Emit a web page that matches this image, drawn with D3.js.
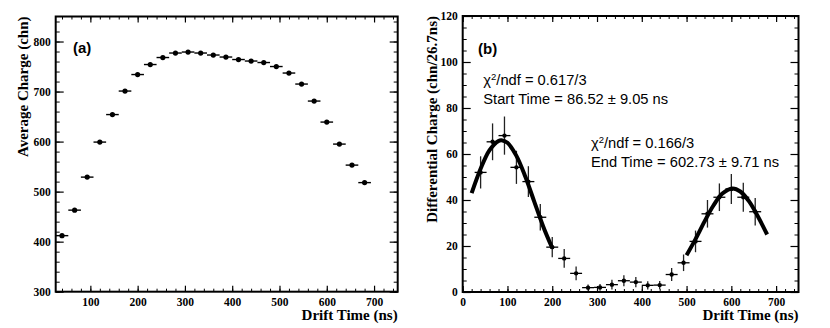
<!DOCTYPE html>
<html><head><meta charset="utf-8">
<script src="https://cdn.jsdelivr.net/npm/d3@7"></script>
<style>
html,body{margin:0;padding:0;background:#fff;}
svg{display:block;}
.tick text{font-family:"Liberation Serif","Times New Roman",serif;font-weight:bold;font-size:11.5px;fill:#000;}
</style></head>
<body>
<svg id="chart" width="830" height="328"></svg>
<script>
// ---------- data ----------
const binCenters = [40, 66.7, 93.3, 120, 146.7, 173.3, 200, 226.7, 253.3, 280, 306.7, 333.3, 360, 386.7, 413.3, 440, 466.7, 493.3, 520, 546.7, 573.3, 600, 626.7, 653.3, 680];
const halfBin = 13.35;
const avgCharge = [412, 463, 529, 599, 654, 701, 734, 754, 768, 777, 779, 777, 773, 769, 764, 761, 758, 750, 737, 715, 681, 639, 595, 553, 518];

const diffX = [40, 66.7, 93.3, 120, 146.7, 173.3, 200, 226.7, 253.3, 280, 306.7, 333.3, 360, 386.7, 413.3, 440, 466.7, 493.3, 520, 546.7, 573.3, 600, 626.7, 653.3];
const diffY = [52, 65.3, 68, 54.2, 48, 32.5, 19.5, 14.6, 8.1, 1.9, 2.0, 3.2, 4.9, 4.3, 2.9, 3.0, 7.6, 12.7, 22, 34, 41.2, 44.8, 41.2, 34.9];
const diffErr = [7, 8, 8.3, 7.2, 6.7, 5.8, 4.4, 4.1, 3.0, 1.4, 1.5, 2.1, 2.4, 2.2, 1.8, 1.8, 2.8, 3.6, 4.7, 6, 6, 6.5, 6.3, 6];

const fitStartX = [20, 40, 60, 80, 86.5, 100, 120, 140, 160, 180, 200];
const fitStartY = [43.0, 53.6, 61.7, 65.7, 66.0, 64.9, 59.2, 50.1, 39.2, 28.4, 19.1];
const fitEndX = [500, 520, 540, 560, 580, 602.7, 620, 640, 660, 680];
const fitEndY = [16.0, 23.0, 30.6, 37.6, 42.8, 45.0, 43.7, 39.3, 32.6, 25.0];

const xTicksA = [100, 200, 300, 400, 500, 600, 700];
const yTicksA = [300, 400, 500, 600, 700, 800];
const xTicksB = [0, 100, 200, 300, 400, 500, 600, 700];
const yTicksB = [0, 20, 40, 60, 80, 100, 120];

// ---------- drawing ----------
const svg = d3.select("#chart");
const serif = '"Liberation Serif","Times New Roman",serif';
const sans = '"Liberation Sans",Arial,Helvetica,sans-serif';

function range(a, b, step) { const r = []; for (let v = a; v <= b + 1e-9; v += step) r.push(+v.toFixed(4)); return r; }

function frame(x, y, opt) {
  const [x0, x1] = x.range(), [y0, y1] = y.range();
  const g = svg.append("g");
  const minorX = range(opt.xMinorStart, x.domain()[1], opt.xMinor).filter(v => v >= x.domain()[0]);
  const minorY = range(y.domain()[0], y.domain()[1], opt.yMinor);
  // minor ticks
  const ax = [
    [d3.axisBottom(x), y0, -opt.xMin, minorX],
    [d3.axisTop(x), y1, -opt.xMin, minorX]
  ];
  ax.forEach(([a, pos, s, vals]) => {
    g.append("g").attr("transform", `translate(0,${pos})`)
      .call(a.tickValues(vals).tickSize(s).tickFormat(""))
      .call(gg => gg.select(".domain").remove())
      .selectAll("line").attr("stroke", "#000").attr("stroke-width", 1);
  });
  [[d3.axisLeft(y), x0], [d3.axisRight(y), x1]].forEach(([a, pos]) => {
    g.append("g").attr("transform", `translate(${pos},0)`)
      .call(a.tickValues(minorY).tickSize(-opt.yMin).tickFormat(""))
      .call(gg => gg.select(".domain").remove())
      .selectAll("line").attr("stroke", "#000").attr("stroke-width", 1);
  });
  // major ticks
  g.append("g").attr("transform", `translate(0,${y0})`)
    .call(d3.axisBottom(x).tickValues(opt.xTicks).tickSize(-opt.xMaj).tickPadding(6).tickFormat(d3.format("d")))
    .call(gg => gg.select(".domain").remove())
    .selectAll("line").attr("stroke", "#000").attr("stroke-width", 1.2);
  g.append("g").attr("transform", `translate(0,${y1})`)
    .call(d3.axisTop(x).tickValues(opt.xTicks).tickSize(-opt.xMaj).tickFormat(""))
    .call(gg => gg.select(".domain").remove())
    .selectAll("line").attr("stroke", "#000").attr("stroke-width", 1.2);
  g.append("g").attr("transform", `translate(${x0},0)`)
    .call(d3.axisLeft(y).tickValues(opt.yTicks).tickSize(-opt.yMaj).tickPadding(5).tickFormat(d3.format("d")))
    .call(gg => gg.select(".domain").remove())
    .selectAll("line").attr("stroke", "#000").attr("stroke-width", 1.2);
  g.append("g").attr("transform", `translate(${x1},0)`)
    .call(d3.axisRight(y).tickValues(opt.yTicks).tickSize(-opt.yMaj).tickFormat(""))
    .call(gg => gg.select(".domain").remove())
    .selectAll("line").attr("stroke", "#000").attr("stroke-width", 1.2);
  g.selectAll(".tick text").attr("font-family", serif).attr("font-weight", "bold").attr("font-size", "11.5px");
  // frame box
  g.append("rect").attr("x", x0).attr("y", y1).attr("width", x1 - x0).attr("height", y0 - y1)
    .attr("fill", "none").attr("stroke", "#000").attr("stroke-width", 2);
  // titles
  svg.append("text").attr("x", x1).attr("y", 320).attr("text-anchor", "end")
    .attr("font-family", serif).attr("font-weight", "bold").attr("font-size", "15px").text(opt.xTitle);
  svg.append("text").attr("transform", `translate(${opt.yTitleX},${y1}) rotate(-90)`).attr("text-anchor", "end")
    .attr("font-family", serif).attr("font-weight", "bold").attr("font-size", "15px").text(opt.yTitle);
}

// ----- Panel (a) -----
const xA = d3.scaleLinear().domain([26.7, 750]).range([55.7, 397.7]);
const yA = d3.scaleLinear().domain([300, 850]).range([291.7, 16.5]);
frame(xA, yA, { xTicks: xTicksA, yTicks: yTicksA, xMinor: 20, xMinorStart: 40, yMinor: 20, xMaj: 6, xMin: 3, yMaj: 8, yMin: 4,
  xTitle: "Drift Time (ns)", yTitle: "Average Charge (chn)", yTitleX: 28 });
const gA = svg.append("g");
gA.selectAll("line.h").data(binCenters).join("line")
  .attr("x1", (d) => xA(d - halfBin)).attr("x2", (d) => xA(d + halfBin))
  .attr("y1", (d, i) => yA(avgCharge[i])).attr("y2", (d, i) => yA(avgCharge[i]))
  .attr("stroke", "#000").attr("stroke-width", 1.4);
gA.selectAll("circle").data(binCenters).join("circle")
  .attr("cx", d => xA(d)).attr("cy", (d, i) => yA(avgCharge[i])).attr("r", 2.6).attr("fill", "#000");
svg.append("text").attr("x", 73).attr("y", 53).attr("font-family", sans).attr("font-weight", "bold")
  .attr("font-size", "15px").text("(a)");

// ----- Panel (b) -----
const xB = d3.scaleLinear().domain([0, 750]).range([462.7, 798.5]);
const yB = d3.scaleLinear().domain([0, 120]).range([292, 16]);
frame(xB, yB, { xTicks: xTicksB, yTicks: yTicksB, xMinor: 20, xMinorStart: 0, yMinor: 5, xMaj: 6, xMin: 3, yMaj: 8, yMin: 4,
  xTitle: "Drift Time (ns)", yTitle: "Differential Charge (chn/26.7ns)", yTitleX: 437 });
const gB = svg.append("g");
gB.selectAll("line.h").data(diffX).join("line").attr("class", "h")
  .attr("x1", d => xB(d - halfBin)).attr("x2", d => xB(d + halfBin))
  .attr("y1", (d, i) => yB(diffY[i])).attr("y2", (d, i) => yB(diffY[i]))
  .attr("stroke", "#000").attr("stroke-width", 1.3);
gB.selectAll("line.v").data(diffX).join("line").attr("class", "v")
  .attr("x1", d => xB(d)).attr("x2", d => xB(d))
  .attr("y1", (d, i) => yB(diffY[i] - diffErr[i])).attr("y2", (d, i) => yB(diffY[i] + diffErr[i]))
  .attr("stroke", "#222").attr("stroke-width", 1.3);
gB.selectAll("circle").data(diffX).join("circle")
  .attr("cx", d => xB(d)).attr("cy", (d, i) => yB(diffY[i])).attr("r", 2.2).attr("fill", "#000");
const fitLine = d3.line().x(d => xB(d[0])).y(d => yB(d[1])).curve(d3.curveCatmullRom);
gB.append("path").attr("d", fitLine(fitStartX.map((x, i) => [x, fitStartY[i]])))
  .attr("fill", "none").attr("stroke", "#000").attr("stroke-width", 4);
gB.append("path").attr("d", fitLine(fitEndX.map((x, i) => [x, fitEndY[i]])))
  .attr("fill", "none").attr("stroke", "#000").attr("stroke-width", 4);

svg.append("text").attr("x", 478).attr("y", 54).attr("font-family", sans).attr("font-weight", "bold")
  .attr("font-size", "15px").text("(b)");

function statBox(x, y, chi, label) {
  const t1 = svg.append("text").attr("x", x).attr("y", y).attr("font-family", sans).attr("font-size", "14.7px");
  t1.append("tspan").text("χ");
  t1.append("tspan").attr("dy", -5).attr("font-size", "9.5px").text("2");
  t1.append("tspan").attr("dy", 5).text("/ndf = " + chi);
  svg.append("text").attr("x", x).attr("y", y + 19).attr("font-family", sans).attr("font-size", "14.7px").text(label);
}
statBox(483.3, 85, "0.617/3", "Start Time = 86.52 ± 9.05 ns");
statBox(591, 148, "0.166/3", "End Time = 602.73 ± 9.71 ns");
</script>
</body></html>
